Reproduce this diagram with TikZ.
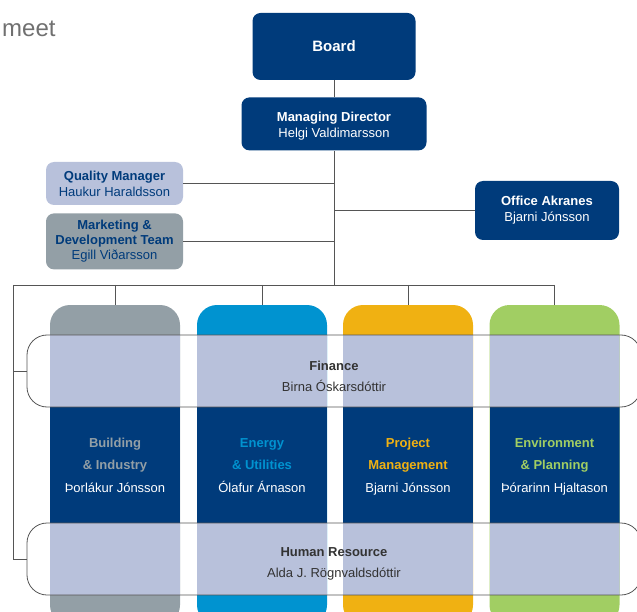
\documentclass[tikz,border=0pt]{standalone}
\usepackage{fontspec}
\setmainfont{Liberation Sans}
\usepackage{tikz}
\usetikzlibrary{positioning}

\definecolor{navy}{HTML}{003B7B}
\definecolor{lav}{HTML}{B8C1DB}
\definecolor{grayc}{HTML}{939FA6}
\definecolor{cyanc}{HTML}{0093D0}
\definecolor{yellowc}{HTML}{F0B112}
\definecolor{greenc}{HTML}{A1CE63}
\definecolor{linec}{HTML}{555555}
\definecolor{darktext}{HTML}{333333}
\definecolor{capgray}{HTML}{707070}

\tikzset{
  unit/.style={rounded corners=8pt, fill=navy, text=white, align=center, inner sep=0pt,
    font=\fontsize{13}{16}\selectfont},
  dept/.style={rounded corners=20pt, minimum width=130pt, minimum height=320pt, inner sep=0pt,
    text=white, align=center, font=\fontsize{13}{22.5}\selectfont,
    path picture={
      \fill[lav, sharp corners] ([yshift=-30pt]path picture bounding box.north west) rectangle ([yshift=-102pt]path picture bounding box.north east);
      \fill[navy, sharp corners] ([yshift=-102pt]path picture bounding box.north west) rectangle ([yshift=-218pt]path picture bounding box.north east);
      \fill[lav, sharp corners] ([yshift=-218pt]path picture bounding box.north west) rectangle ([yshift=-290pt]path picture bounding box.north east);
    }},
  band/.style={draw=linec, line width=0.8pt, rounded corners=20pt, minimum width=614pt, minimum height=72pt},
  bandtext/.style={inner sep=0pt, align=center, text=darktext, font=\fontsize{13}{21}\selectfont},
  link/.style={draw=linec, line width=0.8pt}
}

\begin{document}
\begin{tikzpicture}[x=1pt, y=-1pt]
    \useasboundingbox (0,0) rectangle (637,612);
    \clip (0,0) rectangle (637,612);

    % Cut-off caption
    \node[text=capgray, font=\fontsize{24}{24}\selectfont, anchor=base west, inner sep=0pt] (cap) at (2,37) {meet};

    % Management
    \node[unit, minimum width=163pt, minimum height=67pt, font=\bfseries\fontsize{15}{18}\selectfont] (board) at (334,46.5) {Board};
    \node[unit, minimum width=185pt, minimum height=53pt, below=17pt of board] (md) {\rule{0pt}{14pt}\textbf{Managing Director}\\Helgi Valdimarsson};

    \node[unit, fill=lav, text=navy, minimum width=137pt, minimum height=43pt] (qm) at (114.5,183.5) {\textbf{Quality Manager}\\Haukur Haraldsson};
    \node[unit, fill=grayc, text=navy, minimum width=137pt, minimum height=56pt, below=8pt of qm,
      font=\fontsize{13}{15}\selectfont] (mkt) {\textbf{Marketing \&}\\\textbf{Development Team}\\Egill Viðarsson};
    \node[unit, minimum width=144pt, minimum height=59pt] (oa) at (547,210.5) {\textbf{Office Akranes}\\Bjarni Jónsson};

    % Trunk and branches
    \coordinate (busL) at (13,285);
    \coordinate (busR) at (555,285);
    \draw[link] (board) -- (md);
    \draw[link] (md.south) -- (md.south |- busL);
    \draw[link] (qm.east) -- (qm.east -| md.south);
    \draw[link] (mkt.east) -- (mkt.east -| md.south);
    \draw[link] (oa.west) -- (oa.west -| md.south);
    \draw[link] (busL) -- (busR);

    % Divisions
    \foreach \n/\x/\c/\a/\b/\p in {bld/115/grayc/Building/\& Industry/Þorlákur Jónsson,
        enr/262/cyanc/Energy/\& Utilities/Ólafur Árnason,
        prj/408/yellowc/Project/Management/Bjarni Jónsson,
        env/554.5/greenc/Environment/\& Planning/Þórarinn Hjaltason} {
      \node[dept, fill=\c] (\n) at (\x,465) {\textcolor{\c}{\textbf{\a}}\strut\\\textcolor{\c}{\textbf{\b}}\strut\\\p\strut};
      \draw[link] (\n.north |- busL) -- (\n.north);
    }

    % Shared services
    \node[band] (fin) at (334,371) {};
    \node[bandtext] (fintxt) at (334,376) {\textbf{Finance}\\Birna Óskarsdóttir};
    \node[band] (hr) at (334,559) {};
    \node[bandtext] (hrtxt) at (334,564) {\textbf{Human Resource}\\Alda J. Rögnvaldsdóttir};
    \draw[link] (busL) |- (hr.west);
    \draw[link] (fin.west) -- (fin.west -| busL);

\end{tikzpicture}
\end{document}
